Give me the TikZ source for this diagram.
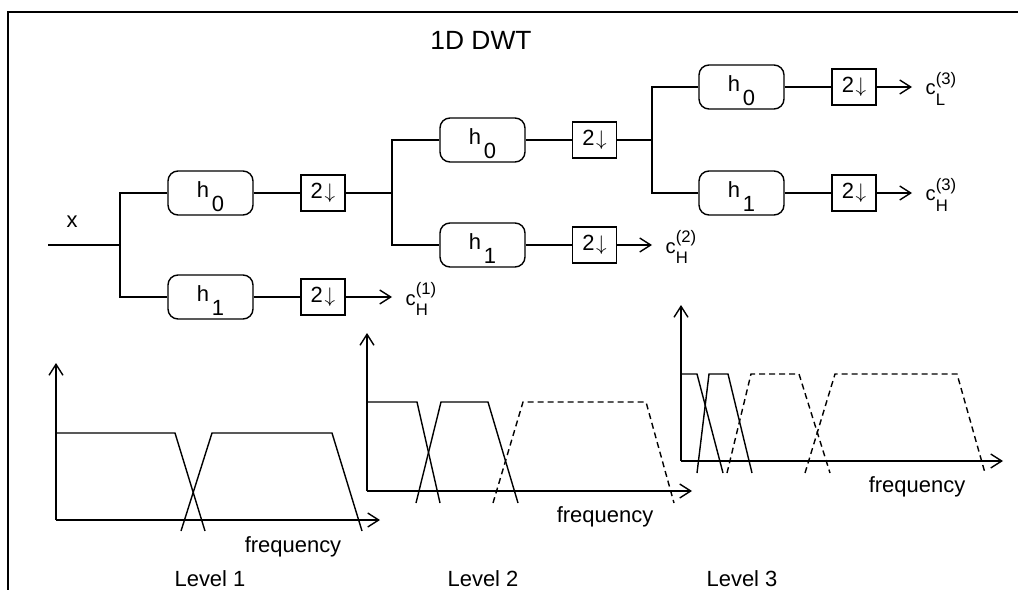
\documentclass[tikz,border=0pt]{standalone}
\usepackage{fontspec}
\setmainfont{Liberation Sans}
\usetikzlibrary{arrows.meta}
\newcommand{\hsub}[1]{\rule{0pt}{13.5pt}h\kern1.5pt\raisebox{-8pt}{#1}}
\newcommand{\dwn}{2\kern1pt$\downarrow$}
\newcommand{\coef}[2]{c\rlap{\raisebox{6.2pt}{\fontsize{9.5}{10}\selectfont(#2)}}\raisebox{-5.7pt}{\fontsize{9.5}{10}\selectfont#1}}
\tikzset{
  filt/.style={draw, rounded corners=2mm, minimum width=17mm, minimum height=8.8mm, inner sep=0pt, font=\fontsize{12.5}{14}\selectfont},
  dsbox/.style={draw, minimum width=8.8mm, minimum height=7.2mm, inner sep=0pt, font=\fontsize{12.5}{14}\selectfont},
  lbl/.style={font=\fontsize{12.5}{14}\selectfont, inner sep=0pt},
  coefl/.style={anchor=base west, inner sep=0pt, font=\fontsize{11.5}{14}\selectfont},
  band/.style={dash pattern=on 1.2mm off 0.8mm}
}
\begin{document}
\begin{tikzpicture}[x=0.2mm,y=-0.2mm,line width=0.8pt,>={Straight Barb[length=2.2mm,width=2.8mm]}]
\useasboundingbox (0,0) rectangle (1018,590);
\draw (1018,12) -- (8,12) -- (8,590);
\node[anchor=base,inner sep=0pt,font=\fontsize{15}{18}\selectfont] at (481,50) (title) {1D DWT};

% level 1
\coordinate (x0) at (48,245);
\coordinate (s1) at (120,245);
\node[lbl,anchor=base] at (72,228) (xin) {x};
\node[filt] at (210.5,193) (h0a) {\hsub{0}};
\node[filt] at (210.5,297) (h1a) {\hsub{1}};
\node[dsbox] at (323,193) (d0a) {\dwn};
\node[dsbox] at (323,297) (d1a) {\dwn};
\coordinate (s2) at (392,193);
\coordinate (e1) at (392,297);
\node[coefl] at (405,305) (c1) {\coef{H}{1}};

\draw (x0) -- (s1);
\draw (h0a.west) -| (s1) |- (h1a.west);
\draw (h0a) -- (d0a);
\draw (h1a) -- (d1a);
\draw (d0a) -- (s2);
\draw[->] (d1a) -- (e1);

% level 2
\node[filt] at (482.5,140) (h0b) {\hsub{0}};
\node[filt] at (482.5,245) (h1b) {\hsub{1}};
\node[dsbox] at (594.5,140) (d0b) {\dwn};
\node[dsbox] at (594.5,245) (d1b) {\dwn};
\coordinate (s3) at (652,140);
\coordinate (e2) at (652,245);
\node[coefl] at (665,253) (c2) {\coef{H}{2}};

\draw (h0b.west) -| (s2) |- (h1b.west);
\draw (h0b) -- (d0b);
\draw (h1b) -- (d1b);
\draw (d0b) -- (s3);
\draw[->] (d1b) -- (e2);

% level 3
\node[filt] at (741.5,87) (h0c) {\hsub{0}};
\node[filt] at (741.5,193) (h1c) {\hsub{1}};
\node[dsbox] at (854,87) (d0c) {\dwn};
\node[dsbox] at (854,193) (d1c) {\dwn};
\coordinate (e3) at (912,87);
\coordinate (e4) at (912,193);
\node[coefl] at (925,95) (c3l) {\coef{L}{3}};
\node[coefl] at (925,201) (c3h) {\coef{H}{3}};

\draw (h0c.west) -| (s3) |- (h1c.west);
\draw (h0c) -- (d0c);
\draw (h1c) -- (d1c);
\draw[->] (d0c) -- (e3);
\draw[->] (d1c) -- (e4);

% spectra
\coordinate (o1) at (56,520);
\draw[->] (o1) -- (56,363);
\draw[->] (o1) -- (380,520);
\draw (56,433) -- (175,433) -- (205,531);
\draw (181,531) -- (212,433) -- (332,433) -- (362,531);
\node[lbl,anchor=base] at (293,552) (f1) {frequency};
\node[lbl,anchor=base] at (210,586) (lv1) {Level 1};

\coordinate (o2) at (367,491);
\draw[->] (o2) -- (367,333);
\draw[->] (o2) -- (692,491);
\draw (367,402) -- (417,402) -- (440,503);
\draw (416,503) -- (441,402) -- (488,402) -- (518,503);
\draw[band] (493,503) -- (523,402) -- (646,402) -- (674,503);
\node[lbl,anchor=base] at (605,522) (f2) {frequency};
\node[lbl,anchor=base] at (483,586) (lv2) {Level 2};

\coordinate (o3) at (681,461);
\draw[->] (o3) -- (681,305);
\draw[->] (o3) -- (1003,461);
\draw (681,374) -- (697,374) -- (723,473);
\draw (697,473) -- (709,374) -- (728,374) -- (752,473);
\draw[band] (727,473) -- (751,374) -- (799,374) -- (830,473);
\draw[band] (805,473) -- (835,374) -- (957,374) -- (985,473);
\node[lbl,anchor=base] at (917,492) (f3) {frequency};
\node[lbl,anchor=base] at (742,586) (lv3) {Level 3};
\end{tikzpicture}
\end{document}
